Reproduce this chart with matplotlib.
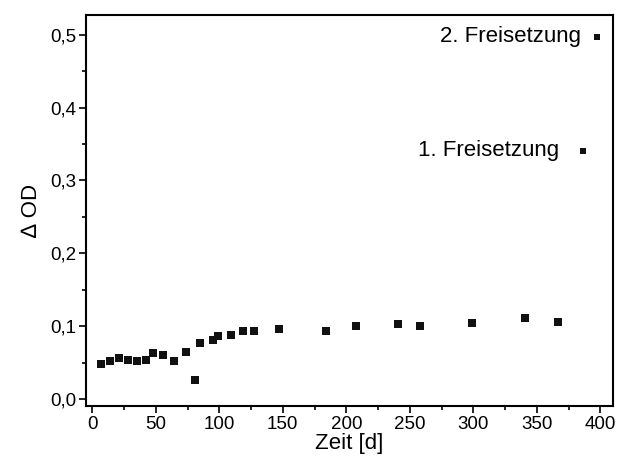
import matplotlib
matplotlib.use('Agg')
import matplotlib.pyplot as plt
from matplotlib.ticker import MultipleLocator, FuncFormatter

plt.rcParams['font.family'] = ['Liberation Sans', 'DejaVu Sans']

# Messwerte
zeit = [7, 14, 21, 28, 35, 42, 48, 56, 64, 74, 81, 85, 95, 99, 109, 119, 127,
        147, 184, 208, 241, 258, 299, 341, 367]
delta_od = [0.049, 0.052, 0.056, 0.054, 0.053, 0.054, 0.063, 0.061, 0.052,
            0.0645, 0.027, 0.077, 0.081, 0.087, 0.088, 0.093, 0.093,
            0.096, 0.093, 0.101, 0.103, 0.100, 0.105, 0.111, 0.106]

# Freisetzungen
frei_x = [386, 397]
frei_y = [0.341, 0.497]
frei_labels = ['1. Freisetzung', '2. Freisetzung']
frei_gap = [-17, -11]  # Abstand Text zu Marker (pt)

fig = plt.figure(figsize=(6.18, 4.67), dpi=100)
ax = fig.add_axes([0.139, 0.131, 0.853, 0.837])

ax.plot(zeit, delta_od, 's', color='#111111', markersize=5.8, markeredgewidth=0)
ax.plot(frei_x, frei_y, 's', color='#111111', markersize=4.6, markeredgewidth=0)
for x, y, t, g in zip(frei_x, frei_y, frei_labels, frei_gap):
    ax.annotate(t, (x, y), xytext=(g, 0), textcoords='offset points',
                ha='right', va='center', fontsize=16)

ax.set_xlim(-5, 410)
ax.set_ylim(-0.009, 0.527)
ax.xaxis.set_major_locator(MultipleLocator(50))
ax.xaxis.set_minor_locator(MultipleLocator(25))
ax.yaxis.set_major_locator(MultipleLocator(0.1))
ax.yaxis.set_minor_locator(MultipleLocator(0.05))
ax.yaxis.set_major_formatter(FuncFormatter(lambda v, p: f'{v:.1f}'.replace('.', ',')))

ax.tick_params(which='major', direction='out', length=5, width=1.2, labelsize=13.5, pad=2)
ax.tick_params(which='minor', direction='out', length=3, width=1.2)
for s in ax.spines.values():
    s.set_linewidth(1.5)

ax.set_xlabel('Zeit [d]', fontsize=16, labelpad=0)
ax.set_ylabel('∆ OD', fontsize=16, labelpad=6)

fig.savefig('out.png', dpi=100)
